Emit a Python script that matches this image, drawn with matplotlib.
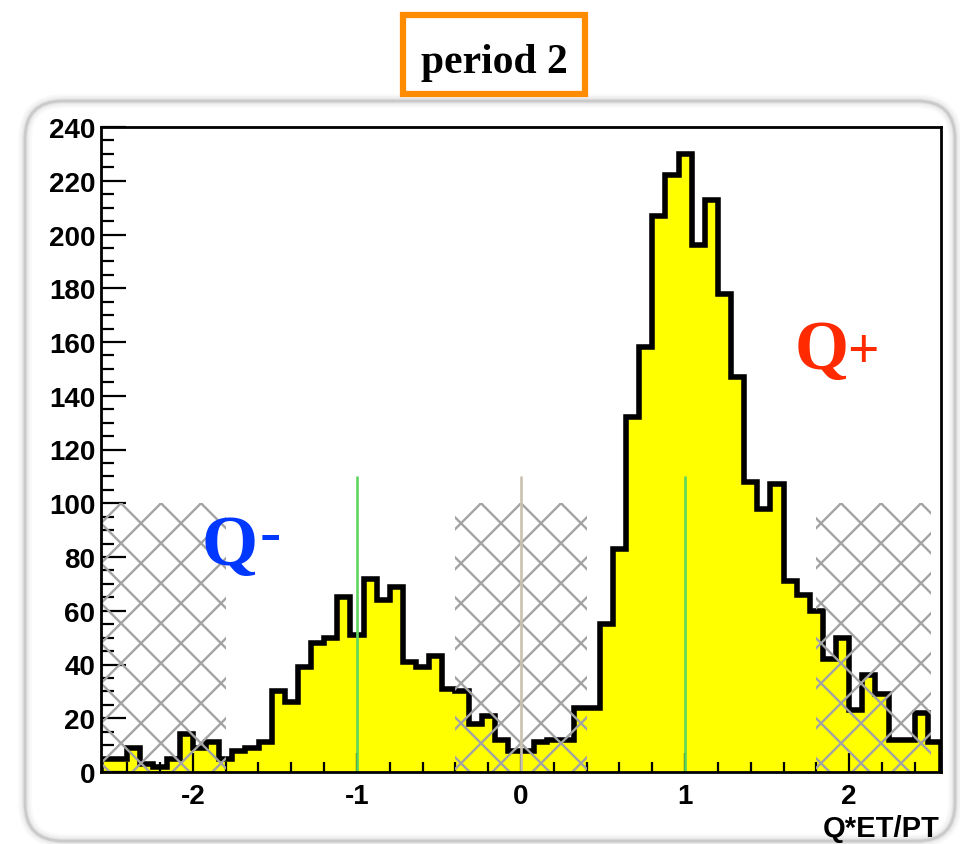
import numpy as np
import matplotlib
matplotlib.use("Agg")
import matplotlib.pyplot as plt
from matplotlib import font_manager
from matplotlib.patches import Rectangle, FancyBboxPatch
from matplotlib.ticker import FixedLocator, MultipleLocator, FixedFormatter

# Q*ET/PT distribution: 64 bins of width 0.08 between -2.56 and 2.56
bin_lo, bin_hi = -2.56, 2.56
counts = [5, 5, 9, 3, 2, 5, 14, 9, 11, 5, 8, 9, 11, 30, 26, 39,
          48, 50, 65, 51, 72, 64, 69, 41, 39, 43, 31, 30, 18, 21, 12, 8,
          8, 11, 12, 12, 24, 24, 55, 83, 132, 158, 207, 222, 230, 196, 213, 178,
          147, 108, 98, 107, 71, 66, 60, 42, 50, 23, 36, 29, 12, 12, 22, 11]

# cross-hatched (excluded) windows
veto_lo = [-2.56, -0.40, 1.80]
veto_hi = [-1.80, 0.40, 2.50]
veto_top = 100

# vertical reference markers
marker_x = [-1.0, 0.0, 1.0]
marker_top = [110, 110, 110]
marker_color = ['#5fd65f', '#c9c1b1', '#5fd65f']

x_ticks = [-2, -1, 0, 1, 2]
x_ticklabels = ['-2', '-1', '0', '1', '2']
y_ticks = list(range(0, 241, 20))
y_ticklabels = [str(v) for v in y_ticks]

title_text = 'period 2'
x_title = 'Q*ET/PT'
neg_label, pos_label = 'Q', 'Q'


def pick_font(*names):
    for n in names:
        try:
            font_manager.findfont(font_manager.FontProperties(family=n),
                                  fallback_to_default=False)
            return n
        except Exception:
            continue
    return 'DejaVu Sans'


sans = pick_font('Liberation Sans', 'Arial', 'DejaVu Sans')
serif = pick_font('Liberation Serif', 'DejaVu Serif')

W, H = 960, 845
fig = plt.figure(figsize=(W / 100, H / 100), dpi=100)
fig.patch.set_facecolor('white')

# rounded panel behind the plot (soft grey rim)
for lw, a in [(10, 0.05), (7, 0.08), (4, 0.14), (2.0, 0.35)]:
    fig.add_artist(FancyBboxPatch((0.25, 0.03), 9.30, 7.40,
                                  boxstyle='round,pad=0,rounding_size=0.38',
                                  transform=fig.dpi_scale_trans,
                                  facecolor='none', edgecolor='#9a9a9a',
                                  lw=lw, alpha=a, zorder=0))

ax = fig.add_axes([101 / W, 72 / H, 840 / W, 645 / H])
ax.set_xlim(bin_lo, bin_hi)
ax.set_ylim(0, 240)
ax.autoscale(False)

edges = np.linspace(bin_lo, bin_hi, len(counts) + 1)
ax.stairs(counts, edges, fill=True, color='#ffff00', zorder=1)
ax.stairs(counts, edges, color='black', lw=4.0, zorder=2)

# diamond cross-hatching over the excluded windows
pitch = 40.0  # pixel spacing of parallel hatch lines (horizontal)
trans = ax.transData
inv = trans.inverted()
anchor = trans.transform((0.0, veto_top))
for lo, hi in zip(veto_lo, veto_hi):
    clip = Rectangle((lo, 0), hi - lo, veto_top, transform=ax.transData,
                     fill=False, edgecolor='none')
    ax.add_patch(clip)
    (x0, y0), (x1, y1) = trans.transform([(lo, 0), (hi, veto_top)])
    for sgn in (1, -1):
        base = anchor[1] - sgn * anchor[0]
        cs = [yy - sgn * xx for xx in (x0, x1) for yy in (y0, y1)]
        kmin = int(np.floor((min(cs) - base) / pitch)) - 1
        kmax = int(np.ceil((max(cs) - base) / pitch)) + 1
        for k in range(kmin, kmax + 1):
            c = base + k * pitch
            xs = np.array([x0 - 10, x1 + 10])
            ys = sgn * xs + c
            pts = inv.transform(np.column_stack([xs, ys]))
            ln, = ax.plot(pts[:, 0], pts[:, 1], color='#a3a3a3', lw=1.7,
                          zorder=3, solid_capstyle='butt')
            ln.set_clip_path(clip)

ax.vlines(marker_x, 0, marker_top, colors=marker_color, lw=1.9, zorder=4)

# axes styling
for s in ax.spines.values():
    s.set_linewidth(2.0)
    s.set_zorder(5)
ax.xaxis.set_major_locator(FixedLocator(x_ticks))
ax.xaxis.set_major_formatter(FixedFormatter(x_ticklabels))
ax.xaxis.set_minor_locator(MultipleLocator(0.2))
ax.yaxis.set_major_locator(FixedLocator(y_ticks))
ax.yaxis.set_major_formatter(FixedFormatter(y_ticklabels))
ax.yaxis.set_minor_locator(MultipleLocator(5))
ax.tick_params(axis='x', which='major', direction='in', length=14, width=1.6,
               top=False, pad=8)
ax.tick_params(axis='x', which='minor', direction='in', length=7, width=1.6,
               top=False)
ax.tick_params(axis='y', which='major', direction='in', length=18, width=1.6,
               right=False, pad=4)
ax.tick_params(axis='y', which='minor', direction='in', length=9, width=1.6,
               right=False)
for lab in ax.get_xticklabels() + ax.get_yticklabels():
    lab.set_fontfamily(sans)
    lab.set_fontweight('bold')
    lab.set_fontsize(20)

fig.text(940 / W, (H - 837) / H, x_title, ha='right', va='baseline',
         fontsize=21, fontweight='bold', family=sans)

# charge labels
ax.text(-1.95, 77.5, neg_label, color='#0038ff', fontsize=52,
        fontweight='bold', family=serif, ha='left', va='baseline', zorder=6)
ax.text(-1.595, 88.0, '-', color='#0038ff', fontsize=46,
        fontweight='bold', family=serif, ha='left', va='center', zorder=6)
ax.text(1.665, 150.5, pos_label, color='#ff2a00', fontsize=50,
        fontweight='bold', family=serif, ha='left', va='baseline', zorder=6)
ax.text(1.99, 156.0, '+', color='#ff2a00', fontsize=40,
        fontweight='bold', family=serif, ha='left', va='center', zorder=6)

# title box
fig.add_artist(Rectangle((403 / W, (H - 95) / H), (585 - 403) / W, (95 - 16) / H,
                         transform=fig.transFigure, facecolor='white',
                         edgecolor='#ff8c00', lw=4.5, zorder=2))
fig.text(494 / W, (H - 73) / H, title_text, ha='center', va='baseline',
         fontsize=30, fontweight='bold', family=serif, zorder=3)

fig.savefig('out.png', dpi=100, facecolor='white')
